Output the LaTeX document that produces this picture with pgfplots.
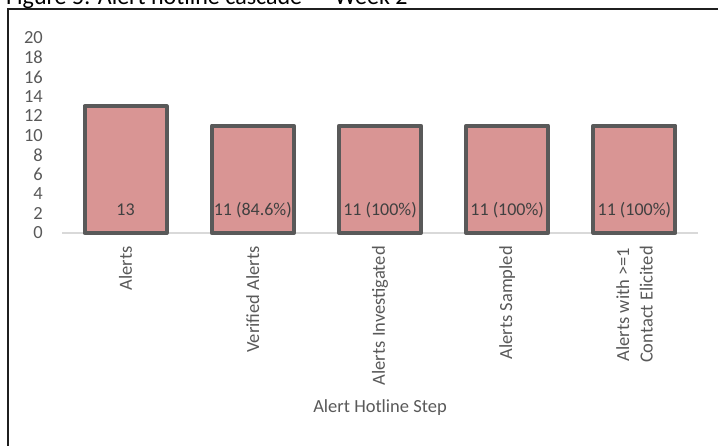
\documentclass[border=0pt]{standalone}
\usepackage{pgfplots}
\pgfplotsset{compat=1.18}
\usepackage{fontspec}
\setmainfont{Carlito}
\definecolor{barfill}{HTML}{D99594}
\definecolor{barline}{HTML}{595959}
\definecolor{txt}{HTML}{595959}
\definecolor{lbl}{HTML}{404040}
\definecolor{axline}{HTML}{D9D9D9}
\begin{document}
\begin{tikzpicture}[x=1pt,y=1pt]
% frame and title
\draw[line width=1.6pt, color=black!88] (8,437) rectangle (760,-30);
\node[anchor=base west, inner sep=0pt, font=\fontsize{24}{28}\selectfont, text=black] at (6,441.5) {Figure 5: Alert hotline cascade — Week 2};
\begin{axis}[
  set layers,
  scale only axis,
  width=636pt, height=195pt,
  at={(62pt,213pt)}, anchor=south west,
  xmin=-0.5, xmax=4.5, ymin=0, ymax=20,
  axis x line*=bottom, axis y line*=left,
  x axis line style={draw=axline, line width=1.5pt},
  y axis line style={draw=none},
  major tick length=0pt,
  tick style={draw=none},
  ytick={0,2,...,20},
  yticklabel style={font=\fontsize{18.5}{22}\selectfont, text=txt, inner sep=0pt, anchor=east},
  yticklabel shift=19pt,
  /pgf/number format/assume math mode=true,
  xtick={0,1,2,3,4},
  xticklabels={Alerts, Verified Alerts, Alerts Investigated, Alerts Sampled, {Alerts with >=1\\Contact Elicited}},
  xticklabel style={rotate=90, anchor=east, inner sep=0pt, align=center, font=\fontsize{18.5}{23.5}\selectfont, text=txt},
  xticklabel shift=13pt,
  xlabel={Alert Hotline Step},
  xlabel style={at={(axis description cs:0.5,-0.918)}, anchor=base, inner sep=0pt, font=\fontsize{18.5}{22}\selectfont, text=txt},
  clip=false,
]
\addplot[ybar, bar width=82pt, bar shift=0pt, fill=barfill, draw=barline, line width=4pt, line join=round,
  nodes near coords, point meta=explicit symbolic,
  visualization depends on={y \as \rawy},
  nodes near coords style={anchor=base, inner sep=0pt, font=\fontsize{18}{22}\selectfont, text=lbl, yshift={17pt-\rawy*9.75pt}}]
  coordinates {(0,13) [13] (1,11) [11 (84.6\%)] (2,11) [11 (100\%)] (3,11) [11 (100\%)] (4,11) [11 (100\%)]};
\end{axis}
\pgfresetboundingbox
\useasboundingbox (0,0) rectangle (718,446);
\end{tikzpicture}
\end{document}
